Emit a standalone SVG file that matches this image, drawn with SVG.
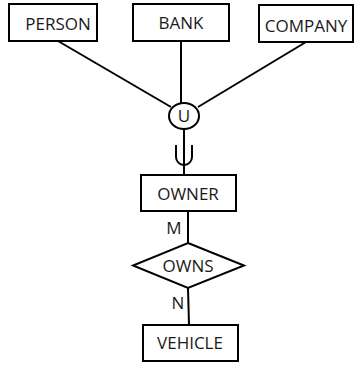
<svg xmlns="http://www.w3.org/2000/svg" width="355" height="365" viewBox="0 0 355 365">
<style>
.box{fill:#fff;stroke:#000;stroke-width:2}
.ln{fill:none;stroke:#000;stroke-width:2}
text{font-family:"Open Sans","Noto Sans",sans-serif;font-size:17px;fill:#1a1a1a;text-anchor:middle}
</style>
<rect width="355" height="365" fill="#fff"/>
<g id="connectors">
<line class="ln" x1="58" y1="41" x2="171" y2="107"/>
<line class="ln" x1="181" y1="41" x2="181" y2="103"/>
<line class="ln" x1="306" y1="42" x2="198" y2="107"/>
<line class="ln" x1="184" y1="130" x2="184" y2="175"/>
<path class="ln" d="M176,145 V157 A8,8 0 0 0 192,157 V145"/>
<line class="ln" x1="188" y1="211" x2="188" y2="243"/>
<line class="ln" x1="188" y1="288" x2="189" y2="325"/>
<text x="174" y="234">M</text>
<text x="178" y="309">N</text>
</g>
<g id="person"><rect class="box" x="9" y="4" width="88" height="37"/><text x="58" y="30">PERSON</text></g>
<g id="bank"><rect class="box" x="133" y="4" width="96" height="37"/><text x="181" y="29">BANK</text></g>
<g id="company"><rect class="box" x="259" y="5" width="94" height="37"/><text x="306" y="32">COMPANY</text></g>
<g id="union"><ellipse class="box" cx="184" cy="116" rx="15" ry="13"/><text x="184" y="122">U</text></g>
<g id="owner"><rect class="box" x="141" y="175" width="95" height="36"/><text x="188" y="200">OWNER</text></g>
<g id="owns"><polygon class="box" points="188,243 244,265.5 188,288 133,265.5"/><text x="188" y="272">OWNS</text></g>
<g id="vehicle"><rect class="box" x="143" y="325" width="95" height="36"/><text x="190" y="349">VEHICLE</text></g>
</svg>
